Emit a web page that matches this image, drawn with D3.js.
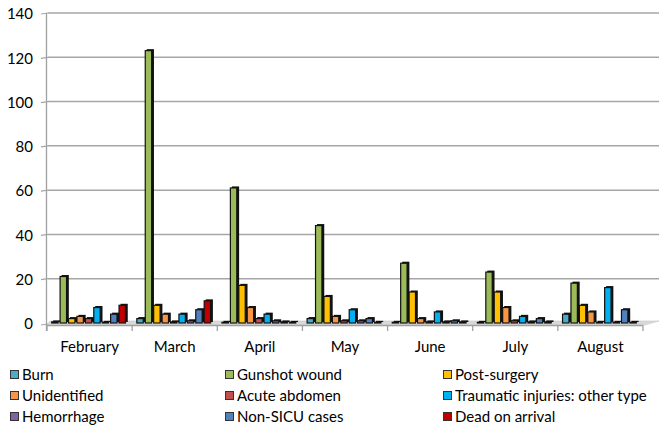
<!DOCTYPE html>
<html><head><meta charset="utf-8">
<script src="https://cdn.jsdelivr.net/npm/d3@7"></script>
<style>body{margin:0;background:#fff}svg{display:block}text{font-family:Lato,"Open Sans",sans-serif;fill:#000}</style>
</head><body><svg id="c" width="671" height="433"></svg>
<script>
const months = ["February","March","April","May","June","July","August"];
const seriesNames = ["Burn","Gunshot wound","Post-surgery","Unidentified","Acute abdomen","Traumatic injuries: other type","Hemorrhage","Non-SICU cases","Dead on arrival"];
const seriesColors = ["#4bacc6","#9bbb59","#ffc000","#f79646","#c0504d","#00b0f0","#8064a2","#4f81bd","#c00000"];
const burn        = [0.5, 2, 0.3, 2, 0.3, 0.3, 4];
const gunshot     = [21, 123, 61, 44, 27, 23, 18];
const postSurgery = [2, 8, 17, 12, 14, 14, 8];
const unidentified= [3, 4, 7, 3, 2, 7, 5];
const acuteAbdomen= [2, 0.5, 2, 1, 0.5, 1, 0.3];
const traumatic   = [7, 4, 4, 6, 5, 3, 16];
const hemorrhage  = [0.3, 1, 1, 1, 0.5, 0.5, 0.3];
const nonSICU     = [4, 6, 0.5, 2, 1, 2, 6];
const deadOnArrival=[8, 10, 0.3, 0.3, 0.5, 0.5, 0.3];
const yTicks = [0,20,40,60,80,100,120,140];
const values = [burn,gunshot,postSurgery,unidentified,acuteAbdomen,traumatic,hemorrhage,nonSICU,deadOnArrival];

const svg = d3.select("#c");
const y = d3.scaleLinear().domain([0,140]).range([323,13]);
const x0 = d3.scaleBand().domain(months).range([47,643]).paddingInner(0.11).paddingOuter(0.055);
const x1 = d3.scaleBand().domain(seriesNames).range([0,x0.bandwidth()]).padding(0);
const gridColor = "#a6a6a6";

// gridlines (back wall)
yTicks.filter(t=>t>0).forEach(t=>{
  svg.append("line").attr("x1",48).attr("x2",659).attr("y1",y(t)).attr("y2",y(t))
    .attr("stroke",gridColor).attr("stroke-width",1.5);
  svg.append("line").attr("x1",41).attr("x2",48).attr("y1",y(t)+1).attr("y2",y(t))
    .attr("stroke",gridColor).attr("stroke-width",1.2);
});
svg.append("line").attr("x1",41).attr("x2",48).attr("y1",y(0)+2).attr("y2",y(0)+1)
  .attr("stroke",gridColor).attr("stroke-width",1.2);
// y tick labels
svg.selectAll("text.yt").data(yTicks).join("text").attr("class","yt")
  .attr("x",33).attr("y",d=>y(d)+1).attr("dy","0.35em").attr("text-anchor","end")
  .attr("font-size",15).text(d=>d);

// floor
svg.append("polygon")
  .attr("points",[[46,325.5],[643,325.5],[659,321],[50,321]].map(p=>p.join(",")).join(" "))
  .attr("fill","#d9d9d9").attr("stroke","#c8c8c8").attr("stroke-width",0.6);

// axes
svg.append("line").attr("x1",46.5).attr("x2",46.5).attr("y1",13).attr("y2",331)
  .attr("stroke","#a0a0a0").attr("stroke-width",1.3);
svg.append("line").attr("x1",46).attr("x2",643).attr("y1",325.5).attr("y2",325.5)
  .attr("stroke","#a0a0a0").attr("stroke-width",1.3);
const step = x0.step();
d3.range(8).forEach(i=>{
  const xx = 47 + i*step;
  svg.append("line").attr("x1",xx).attr("x2",xx).attr("y1",325.5).attr("y2",331)
    .attr("stroke","#a0a0a0").attr("stroke-width",1.3);
});

// bars
const g = svg.append("g");
months.forEach((m,mi)=>{
  seriesNames.forEach((s,si)=>{
    const v = values[si][mi];
    const bx = x0(m) + x1(s);
    const w = x1.bandwidth();
    const top = y(v), base = y(0);
    g.append("rect").attr("x",bx+1.5).attr("y",top-1.5).attr("width",w-1.2).attr("height",Math.max(0,base-top)+0.5)
      .attr("fill","#111");
    g.append("rect").attr("x",bx).attr("y",top).attr("width",w-2).attr("height",Math.max(0,base-top))
      .attr("fill",seriesColors[si]).attr("stroke","#111").attr("stroke-width",1.2);
  });
});

// month labels
svg.selectAll("text.xl").data(months).join("text").attr("class","xl")
  .attr("x",(d,i)=>47+(i+0.5)*step).attr("y",347).attr("dy","0.35em")
  .attr("text-anchor","middle").attr("font-size",15).text(d=>d);

// legend
const colX = [10,225,443], rowY = [375,396,417];
const lg = svg.append("g");
seriesNames.forEach((s,i)=>{
  const cx = colX[i%3], cy = rowY[Math.floor(i/3)];
  lg.append("rect").attr("x",cx+0.5).attr("y",cy-4.5).attr("width",8).attr("height",8)
    .attr("fill",seriesColors[i]).attr("stroke","#333").attr("stroke-width",1);
  lg.append("text").attr("x",cx+12).attr("y",cy).attr("dy","0.35em").attr("font-size",15).text(s);
});
</script></body></html>
